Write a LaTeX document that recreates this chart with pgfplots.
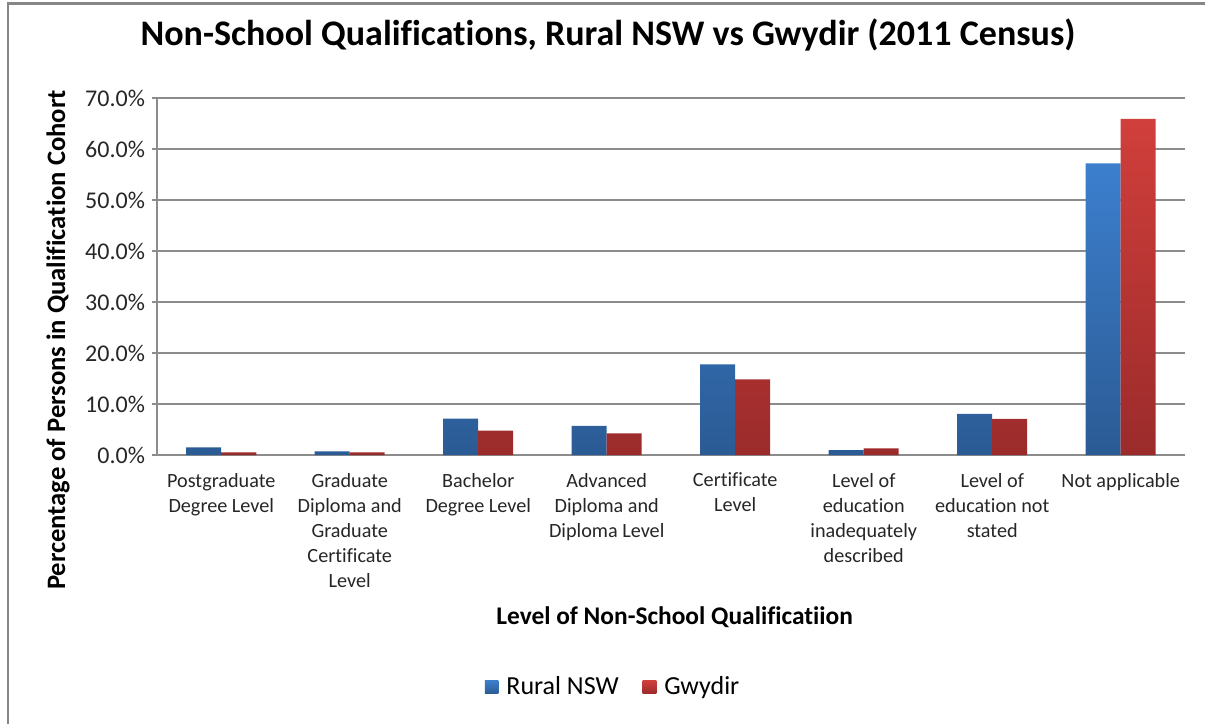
\documentclass[border=0pt]{standalone}
\usepackage{pgfplots}
\pgfplotsset{compat=1.18}
\usepackage{fontspec}
\setmainfont{Carlito}[Ligatures=NoCommon]
\definecolor{bluetop}{RGB}{60,127,206}
\definecolor{bluebot}{RGB}{43,91,148}
\definecolor{redtop}{RGB}{209,63,59}
\definecolor{redbot}{RGB}{155,43,43}
\definecolor{gridgray}{RGB}{140,140,140}
\definecolor{framegray}{RGB}{135,135,135}
\begin{document}
\begin{tikzpicture}
\path[use as bounding box] (0,0) rectangle (602.5pt,362pt);
\draw[framegray, line width=1.2pt] (4pt,0pt) -- (4pt,360.2pt) -- (602.5pt,360.2pt);
\begin{axis}[
  at={(78.5pt,134.5pt)}, anchor=south west,
  scale only axis, width=514pt, height=178.5pt,
  xmin=-0.5, xmax=7.5, ymin=0, ymax=70,
  ybar=0pt, bar width=17.5pt,
  axis x line*=bottom, axis y line*=left,
  axis line style={gridgray, line width=0.8pt},
  ymajorgrids, grid style={gridgray, line width=0.8pt},
  ytick={0,10,...,70},
  yticklabel={\pgfmathprintnumber[fixed,fixed zerofill,precision=1]{\tick}\%},
  /pgf/number format/assume math mode=true,
  yticklabel style={font=\fontsize{12}{14}\selectfont, color=black!85},
  xtick={0,...,7},
  xticklabels={{Postgraduate\\Degree Level},{Graduate\\Diploma and\\Graduate\\Certificate\\Level},{Bachelor\\Degree Level},{Advanced\\Diploma and\\Diploma Level},{Certificate\\Level},{Level of\\education\\inadequately\\described},{Level of\\education not\\stated},{Not applicable}},
  xticklabel style={align=center, font=\fontsize{10.1}{12.5}\selectfont, color=black!85, anchor=north, yshift=-3pt},
  minor xtick={-0.5,0.5,...,7.5},
  xtick style={draw=none},
  minor x tick style={gridgray, line width=0.8pt},
  ytick style={gridgray, line width=0.8pt},
  tick align=outside, major tick length=2.5pt, minor tick length=4pt,
  xlabel={Level of Non-School Qualificatiion},
  xlabel style={at={(axis description cs:0.5035,-0.454)}, anchor=center, font=\bfseries\fontsize{12.7}{15}\selectfont},
  ylabel={Percentage of Persons in Qualification Cohort},
  ylabel style={at={(axis description cs:-0.0963,0.322)}, anchor=center, font=\bfseries\fontsize{13.3}{15}\selectfont},
  title={Non-School Qualifications, Rural NSW vs Gwydir (2011 Census)},
  title style={at={(axis description cs:0.4387,1.143)}, anchor=center, font=\bfseries\fontsize{18}{21}\selectfont},
  legend style={at={(axis description cs:0.4446,-0.65)}, anchor=center, draw=none, fill=none,
    legend columns=2, font=\fontsize{13}{15}\selectfont,
    /tikz/every odd column/.append style={column sep=2pt},
    /tikz/every even column/.append style={column sep=10pt}},
  legend image code/.code={\path[#1, draw=none] (0pt,-3.4pt) rectangle (6.8pt,3.4pt);},
]
\addplot[draw=none, top color=bluetop, bottom color=bluebot] coordinates {
(0,1.52) (1,0.73) (2,7.15) (3,5.70) (4,17.75) (5,0.98) (6,8.07) (7,57.2)};
\addplot[draw=none, top color=redtop, bottom color=redbot] coordinates {
(0,0.53) (1,0.53) (2,4.77) (3,4.24) (4,14.83) (5,1.31) (6,7.09) (7,65.9)};
\legend{Rural NSW, Gwydir}
\end{axis}
\end{tikzpicture}
\end{document}
